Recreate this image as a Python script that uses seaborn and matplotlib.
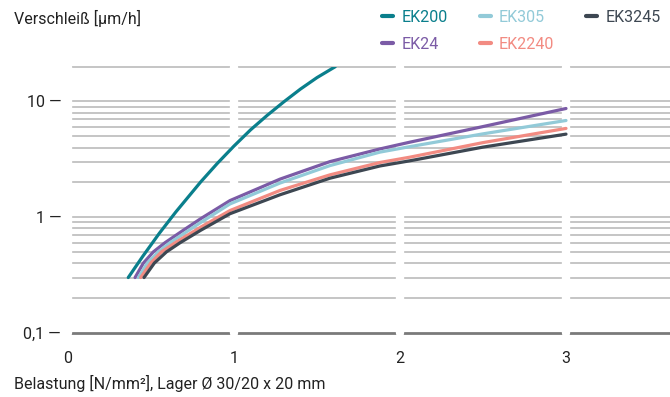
import pandas as pd
import matplotlib
matplotlib.use("Agg")
import matplotlib.pyplot as plt
import seaborn as sns
from matplotlib.ticker import NullLocator

# Werte (Belastung in N/mm², Verschleiß in µm/h)
series_order = ["EK200", "EK24", "EK305", "EK2240", "EK3245"]
colors = ["#0a7f8c", "#7b5ba6", "#92cad8", "#f28b82", "#3d4752"]

ek200_x = [0.363, 0.45, 0.55, 0.65, 0.8, 0.9, 1.0, 1.1, 1.2, 1.3, 1.4, 1.5, 1.61]
ek200_y = [0.3, 0.457, 0.724, 1.11, 2.02, 2.92, 4.12, 5.69, 7.59, 9.93, 12.8, 16.1, 20.0]

ek24_x = [0.404, 0.454, 0.514, 0.584, 0.695, 0.8, 0.976, 1.277, 1.578, 1.88, 2.06, 2.5, 3.0]
ek24_y = [0.3, 0.4, 0.5, 0.6, 0.77, 0.97, 1.39, 2.13, 3.02, 3.89, 4.45, 6.07, 8.7]

ek305_x = [0.424, 0.478, 0.544, 0.614, 0.8, 0.976, 1.277, 1.578, 1.88, 2.06, 2.5, 3.0]
ek305_y = [0.3, 0.4, 0.5, 0.6, 0.9, 1.30, 1.97, 2.79, 3.65, 4.07, 5.25, 6.85]

ek2240_x = [0.438, 0.498, 0.563, 0.645, 0.8, 0.976, 1.277, 1.578, 1.88, 2.06, 2.5, 3.0]
ek2240_y = [0.3, 0.4, 0.5, 0.6, 0.82, 1.14, 1.70, 2.32, 2.97, 3.3, 4.41, 5.85]

ek3245_x = [0.458, 0.52, 0.593, 0.675, 0.8, 0.976, 1.277, 1.578, 1.88, 2.06, 2.5, 3.0]
ek3245_y = [0.3, 0.4, 0.5, 0.6, 0.77, 1.07, 1.56, 2.17, 2.77, 3.07, 4.03, 5.22]

x_ticks = [0, 1, 2, 3]
y_ticks = [0.1, 1, 10]
y_ticklabels = ["0,1 \u2014", "1 \u2014", "10 \u2014"]
grid_levels = [0.1, 0.2, 0.3, 0.4, 0.5, 0.6, 0.7, 0.8, 0.9,
               1, 2, 3, 4, 5, 6, 7, 8, 9, 10, 20]

frames = []
for name, xs, ys in [("EK200", ek200_x, ek200_y), ("EK24", ek24_x, ek24_y),
                     ("EK305", ek305_x, ek305_y), ("EK2240", ek2240_x, ek2240_y),
                     ("EK3245", ek3245_x, ek3245_y)]:
    frames.append(pd.DataFrame({"x": xs, "y": ys, "series": name}))
df = pd.concat(frames, ignore_index=True)

sns.set_style("white")
plt.rcParams["font.family"] = ["Roboto", "DejaVu Sans"]

fig = plt.figure(figsize=(6.7, 3.97), dpi=100)
ax = fig.add_axes([68 / 670, 1 - 332.7 / 397, 1 - 68 / 670, (332.7 - 66.7) / 397])

# Gitterlinien und weiße Trennstreifen
for v in grid_levels:
    if v == 0.1:
        ax.axhline(v, color="#7a7a7a", lw=2.0, zorder=1, clip_on=False)
    else:
        ax.axhline(v, color="#c0c0c0", lw=1.3, zorder=1, clip_on=False)
for v in x_ticks:
    ax.axvline(v, color="white", lw=6, zorder=2, clip_on=False)

sns.lineplot(data=df, x="x", y="y", hue="series", hue_order=series_order,
             palette=colors, sort=False, estimator=None, lw=2.3, ax=ax, zorder=3)

ax.set_yscale("log")
ax.set_ylim(0.1, 20)
ax.set_xlim(0, (670 - 68) / 166)
ax.yaxis.set_minor_locator(NullLocator())
ax.set_yticks(y_ticks)
ax.set_yticklabels(y_ticklabels)
ax.set_xticks(x_ticks)
ax.set_xticklabels([str(t) for t in x_ticks])
ax.tick_params(axis="both", length=0, labelsize=11.5, colors="#222222")
ax.tick_params(axis="x", pad=13)
ax.tick_params(axis="y", pad=5)
ax.set_xlabel("")
ax.set_ylabel("")
for s in ax.spines.values():
    s.set_visible(False)

handles, labels = ax.get_legend_handles_labels()
ax.get_legend().remove()
leg = fig.legend(handles, labels, loc="upper right", bbox_to_anchor=(1.0, 1.0),
                 ncol=3, frameon=False, handlelength=0.7, handletextpad=0.5,
                 columnspacing=2.0, labelspacing=0.75, fontsize=11.5,
                 labelcolor="linecolor", borderaxespad=0.2)
for h in leg.get_lines():
    h.set_linewidth(3)

fig.text(14 / 670, 1 - 18 / 397, "Verschleiß [µm/h]", fontsize=11.5,
         color="#222222", va="center", ha="left")
fig.text(14 / 670, 1 - 383 / 397, "Belastung [N/mm²], Lager Ø 30/20 x 20 mm",
         fontsize=11.5, color="#222222", va="center", ha="left")

fig.savefig("out.png", dpi=100)
